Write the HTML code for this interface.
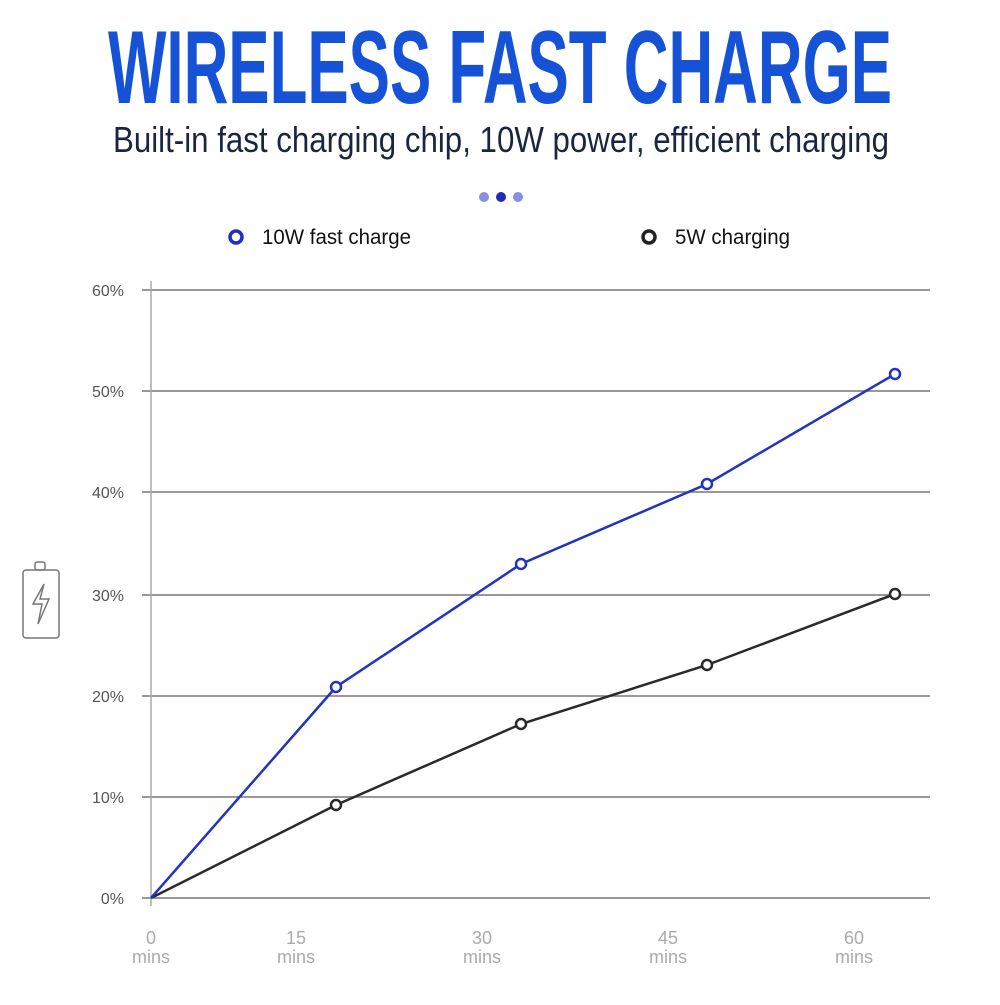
<!DOCTYPE html>
<html><head><meta charset="utf-8"><style>html,body{margin:0;padding:0;background:#fff}</style></head>
<body>
<svg width="1000" height="1000" viewBox="0 0 1000 1000" xmlns="http://www.w3.org/2000/svg" font-family="Liberation Sans, sans-serif">
<text x="108" y="103" font-size="104" font-weight="bold" fill="#1552d6" textLength="784" lengthAdjust="spacingAndGlyphs">WIRELESS FAST CHARGE</text>
<text x="113" y="152" font-size="36" fill="#1c2540" textLength="776" lengthAdjust="spacingAndGlyphs">Built-in fast charging chip, 10W power, efficient charging</text>
<circle cx="484" cy="197" r="5" fill="#8890e0"/>
<circle cx="501" cy="197" r="5" fill="#1f2ab8"/>
<circle cx="518" cy="197" r="5" fill="#8890e0"/>
<circle cx="236" cy="237" r="6" fill="none" stroke="#2030c0" stroke-width="3.5"/>
<text x="262" y="244" font-size="21" fill="#111" textLength="149" lengthAdjust="spacingAndGlyphs">10W fast charge</text>
<circle cx="649" cy="237" r="6" fill="none" stroke="#222" stroke-width="3.5"/>
<text x="675" y="244" font-size="21" fill="#111" textLength="115" lengthAdjust="spacingAndGlyphs">5W charging</text>
<g stroke="#777" stroke-width="1.5">
<line x1="142" y1="290" x2="930" y2="290"/>
<line x1="142" y1="391" x2="930" y2="391"/>
<line x1="142" y1="492" x2="930" y2="492"/>
<line x1="142" y1="595" x2="930" y2="595"/>
<line x1="142" y1="696" x2="930" y2="696"/>
<line x1="142" y1="797" x2="930" y2="797"/>
<line x1="142" y1="898" x2="930" y2="898"/>
</g>
<line x1="151" y1="281" x2="151" y2="906" stroke="#aaa" stroke-width="1.5"/>
<g font-size="16" fill="#555" text-anchor="end">
<text x="124" y="296">60%</text><text x="124" y="397">50%</text><text x="124" y="498">40%</text>
<text x="124" y="601">30%</text><text x="124" y="702">20%</text><text x="124" y="803">10%</text><text x="124" y="904">0%</text>
</g>
<g font-size="18" fill="#aaa" text-anchor="middle">
<text x="151" y="944">0</text><text x="151" y="963">mins</text>
<text x="296" y="944">15</text><text x="296" y="963">mins</text>
<text x="482" y="944">30</text><text x="482" y="963">mins</text>
<text x="668" y="944">45</text><text x="668" y="963">mins</text>
<text x="854" y="944">60</text><text x="854" y="963">mins</text>
</g>
<g fill="none" stroke="#777" stroke-width="1.5">
<rect x="35" y="562" width="10" height="8" rx="2"/>
<rect x="23" y="570" width="36" height="68" rx="3"/>
<path d="M44 584 L33 604 L42 604 L38 624 L49 599 L40 599 Z"/>
</g>
<polyline points="151,898 336,805 521,724 707,665 895,594" fill="none" stroke="#2a2a2a" stroke-width="2.5"/>
<polyline points="151,898 336,687 521,564 707,484 895,374" fill="none" stroke="#2233c0" stroke-width="2.5"/>
<g fill="#fff" stroke="#2a2a2a" stroke-width="2.5">
<circle cx="336" cy="805" r="5"/><circle cx="521" cy="724" r="5"/><circle cx="707" cy="665" r="5"/><circle cx="895" cy="594" r="5"/>
</g>
<g fill="#fff" stroke="#2233c0" stroke-width="2.5">
<circle cx="336" cy="687" r="5"/><circle cx="521" cy="564" r="5"/><circle cx="707" cy="484" r="5"/><circle cx="895" cy="374" r="5"/>
</g>
</svg>
</body></html>
